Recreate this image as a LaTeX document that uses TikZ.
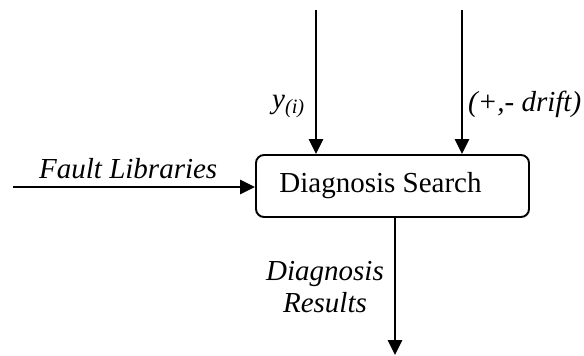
\documentclass[tikz,border=0pt]{standalone}
\usepackage{fontspec}
\setmainfont{Liberation Serif}
\usetikzlibrary{arrows.meta}
\begin{document}
\begin{tikzpicture}[x={(1pt,0)},y={(0,-1pt)},
  txt/.style={font=\fontsize{29}{32}\selectfont, inner sep=0pt},
  lbl/.style={txt, font=\fontsize{29}{32}\selectfont\itshape},
  flow/.style={line width=2.8pt, -{Triangle[length=15pt,width=14pt]}},
  procbox/.style={draw, line width=1.9pt, rounded corners=8pt, minimum width=273pt, minimum height=62pt, inner sep=0pt, font=\fontsize{29}{32}\selectfont}]
\useasboundingbox (0,0) rectangle (584,356);
\node[procbox] (box) at (392.5,186) {Diagnosis Search\kern24pt};
\coordinate (fin) at (13,187);
\coordinate (yin) at (316,10);
\coordinate (din) at (462,10);
\coordinate (rout) at (395,355);
\draw[flow] (fin) -- (fin -| box.west);
\draw[flow] (yin) -- (yin |- box.north);
\draw[flow] (din) -- (din |- box.north);
\draw[flow] (rout |- box.south) -- (rout);
\node[lbl, anchor=base west] (flab) at (39,178) {Fault Libraries};
\node[lbl, anchor=base west] (ylab) at (272,108) {y\textsubscript{(i)}};
\node[lbl, anchor=base west] (dlab) at (468,111) {(+,- drift)};
\node[lbl, align=center, anchor=center] (rlab) at (325,287) {Diagnosis\\Results};
\end{tikzpicture}
\end{document}
